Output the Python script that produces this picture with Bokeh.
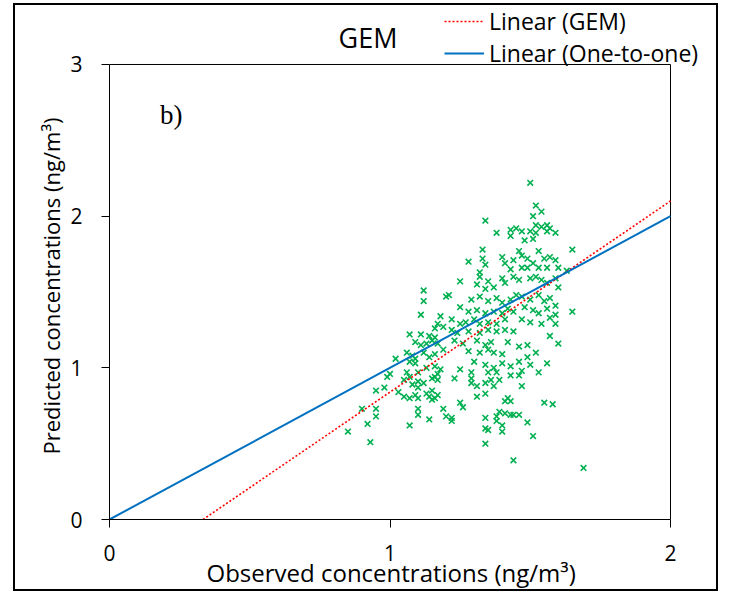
from bokeh.plotting import figure
from bokeh.models import Range1d, FixedTicker, Legend, LegendItem, Label, Title
from bokeh.embed import file_html
from bokeh.resources import INLINE

# ---------------- data ----------------
obs = [
    1.50, 1.52, 1.51, 1.54, 1.34, 1.38, 1.43, 1.45, 1.47, 1.43, 1.48, 1.50, 1.52, 1.54, 1.56, 1.57, 1.59, 1.56, 1.52, 1.51,
    1.28, 1.33, 1.33, 1.34, 1.32, 1.40, 1.41, 1.44, 1.46, 1.47, 1.49, 1.51, 1.53, 1.55, 1.57, 1.59, 1.60, 1.47, 1.49, 1.43,
    1.53, 1.56, 1.65, 1.63, 1.65,
    1.12, 1.12, 1.11, 1.20, 1.18, 1.17, 1.19, 1.16, 1.07, 1.11, 1.14, 1.16, 1.09, 1.11, 1.13, 1.15, 1.17, 1.06, 1.08, 1.09,
    1.12, 1.14, 1.16, 1.19, 1.02, 1.07, 1.09, 1.13, 1.16, 1.18, 1.06, 1.10, 1.00, 1.17,
    0.99, 0.95, 0.98, 1.03, 1.05, 1.07, 1.10, 1.12, 1.10, 1.08, 1.15, 1.17, 1.16, 1.05, 1.07, 1.09, 1.10, 1.13, 1.14, 1.15,
    1.16, 1.17, 1.15, 1.19, 0.90, 0.95, 1.10, 0.95, 1.10, 0.92, 1.07, 1.14, 0.85, 0.93, 1.20,
    1.23, 1.29, 1.29, 1.31, 1.34, 1.36, 1.37, 1.39, 1.43, 1.46, 1.47, 1.31, 1.34, 1.42, 1.43, 1.41, 1.55, 1.58, 1.25, 1.26,
    1.39, 1.41, 1.43, 1.44, 1.46, 1.38, 1.34, 1.22, 1.22, 1.38, 1.40, 1.49, 1.34, 1.35, 1.40, 1.51, 1.34, 1.44, 1.69,
    1.25, 1.21, 1.32, 1.35, 1.31, 1.34, 1.37, 1.40, 1.41, 1.44, 1.46, 1.50, 1.52, 1.54, 1.56, 1.59, 1.60,
    1.29, 1.32, 1.35, 1.38, 1.40, 1.43, 1.45, 1.47, 1.50, 1.53, 1.55, 1.57, 1.59,
    1.25, 1.28, 1.31, 1.34, 1.37, 1.40, 1.42, 1.44, 1.48, 1.51, 1.53, 1.56, 1.59,
    1.22, 1.25, 1.27, 1.30, 1.32, 1.35, 1.38, 1.41, 1.47, 1.50, 1.54, 1.57, 1.59,
    1.22, 1.24, 1.28, 1.32, 1.35, 1.38, 1.41, 1.44, 1.57,
    1.23, 1.26, 1.31, 1.34, 1.36, 1.42, 1.46, 1.49, 1.60,
    1.28, 1.32, 1.35, 1.37, 1.40, 1.46, 1.49, 1.52,
    1.30, 1.34, 1.37, 1.40, 1.43, 1.50, 1.56,
    1.25, 1.29, 1.35, 1.38, 1.47, 1.53,
]
pred = [
    2.22, 2.07, 2.00, 2.03, 1.97, 1.89, 1.91, 1.92, 1.90, 1.87, 1.84, 1.90, 1.94, 1.93, 1.94, 1.92, 1.89, 1.90, 1.89, 1.85,
    1.70, 1.78, 1.72, 1.68, 1.63, 1.73, 1.69, 1.71, 1.77, 1.74, 1.72, 1.69, 1.77, 1.72, 1.73, 1.71, 1.66, 1.66, 1.66, 1.65,
    1.66, 1.66, 1.78, 1.64, 1.37,
    1.51, 1.44, 1.35, 1.47, 1.34, 1.29, 1.27, 1.26, 1.22, 1.22, 1.21, 1.20, 1.17, 1.15, 1.16, 1.18, 1.16, 1.10, 1.08, 1.06,
    1.10, 1.07, 1.09, 1.12, 1.06, 1.04, 1.03, 1.00, 1.01, 0.99, 0.97, 0.97, 0.96, 0.96,
    0.94, 0.85, 0.87, 0.84, 0.92, 0.94, 0.91, 0.90, 0.87, 0.89, 0.93, 0.92, 0.94, 0.81, 0.80, 0.82, 0.80, 0.83, 0.81, 0.79,
    0.80, 0.82, 0.85, 0.73, 0.73, 0.73, 0.73, 0.68, 0.69, 0.63, 0.62, 0.66, 0.58, 0.51, 0.68,
    0.93, 0.93, 0.90, 0.88, 0.90, 0.92, 0.88, 0.92, 0.95, 0.95, 0.88, 0.81, 0.83, 0.80, 0.78, 0.78, 0.77, 0.76, 0.77, 0.74,
    0.71, 0.70, 0.69, 0.69, 0.69, 0.68, 0.67, 0.67, 0.65, 0.65, 0.62, 0.64, 0.60, 0.59, 0.58, 0.55, 0.50, 0.39, 0.34,
    1.57, 1.48, 1.60, 1.57, 1.55, 1.52, 1.53, 1.59, 1.56, 1.60, 1.58, 1.59, 1.60, 1.58, 1.56, 1.59, 1.53,
    1.45, 1.47, 1.44, 1.46, 1.43, 1.45, 1.48, 1.47, 1.45, 1.48, 1.44, 1.46, 1.41,
    1.40, 1.37, 1.38, 1.36, 1.37, 1.36, 1.39, 1.37, 1.40, 1.38, 1.36, 1.39, 1.35,
    1.32, 1.29, 1.30, 1.32, 1.29, 1.30, 1.29, 1.32, 1.32, 1.30, 1.29, 1.33, 1.29,
    1.25, 1.23, 1.24, 1.23, 1.25, 1.24, 1.25, 1.24, 1.21,
    1.18, 1.16, 1.18, 1.15, 1.17, 1.17, 1.14, 1.15, 1.16,
    1.11, 1.10, 1.12, 1.10, 1.09, 1.04, 1.07, 1.10,
    1.04, 1.02, 1.00, 1.03, 1.01, 1.02, 1.03,
    0.99, 0.97, 0.97, 0.97, 0.98, 0.97,
]

x_ticks = [0, 1, 2]
y_ticks = [0, 1, 2, 3]
x_min, x_max = 0, 2
y_min, y_max = 0, 3

# Excel linear trendline of the GEM series
gem_slope = 1.26
gem_intercept = -0.42

title_text = "GEM"
panel_tag = "b)"
x_label = "Observed concentrations (ng/m\u00b3)"
y_label = "Predicted concentrations (ng/m\u00b3)"
legend_labels = ["Linear (GEM)", "Linear (One-to-one)"]

FONT = "Open Sans"
GREEN, RED, BLUE = "#00B050", "#FF0000", "#0070C0"

# ---- layout constants (pixels) ----
W, H = 705, 588            # inner size of the bordered chart
FRAME_L, FRAME_B = 94, 74  # space left / below the plot area
PX_X = 280.5               # pixels per x unit
PX_Y = 151.67              # pixels per y unit
PAD_RIGHT = 50 / PX_X      # view continues right of x=2 (room for the legend)
PAD_TOP = 59 / PX_Y        # view continues above y=3 (room for title + legend)

p = figure(
    width=W, height=H,
    x_range=Range1d(x_min, x_max + PAD_RIGHT), y_range=Range1d(y_min, y_max + PAD_TOP),
    output_backend="svg", toolbar_location=None,
    min_border_left=FRAME_L, min_border_right=0, min_border_top=0, min_border_bottom=FRAME_B,
)
p.margin = (3, 0, 0, 13)
p.styles = {"border": "2px solid black"}
p.background_fill_color = "white"
p.border_fill_color = "white"
p.outline_line_color = None
p.xgrid.visible = False
p.ygrid.visible = False

for ax, ticks, bnds in ((p.xaxis[0], x_ticks, (x_min, x_max)), (p.yaxis[0], y_ticks, (y_min, y_max))):
    ax.ticker = FixedTicker(ticks=ticks)
    ax.bounds = bnds
    ax.minor_tick_line_color = None
    ax.major_tick_in = 0
    ax.major_tick_out = 8
    ax.major_tick_line_color = "black"
    ax.axis_line_color = "black"
    ax.major_label_text_font = FONT
    ax.major_label_text_font_size = "21px"
    ax.major_label_text_color = "black"
p.xaxis.major_label_standoff = 17
p.yaxis.major_label_standoff = 19

# axis titles (placed as side titles so they centre on the plot box, not on the view)
ty = Title(text=y_label, align="left", vertical_align="bottom", offset=65, standoff=4,
           text_font=FONT, text_font_size="22px", text_font_style="normal", text_color="black")
p.add_layout(ty, "left")
tx = Title(text=x_label, align="left", vertical_align="top", offset=97, standoff=-16,
           text_font=FONT, text_font_size="24px", text_font_style="normal", text_color="black")
p.add_layout(tx, "below")

# plot-area box
p.quad(left=[x_min], right=[x_max], bottom=[y_min], top=[y_max],
       fill_color=None, line_color="black", line_width=1)

# scatter
p.scatter(obs, pred, marker="x", size=8, line_width=1.6, color=GREEN)

# trend lines
gx0 = -gem_intercept / gem_slope
gem_x = [gx0, x_max]
gem_y = [gem_slope * v + gem_intercept for v in gem_x]
r_gem = p.line(gem_x, gem_y, line_color=RED, line_width=1.6, line_dash="2 2")
one_x = [x_min, x_max]
one_y = [x_min, x_max]
r_one = p.line(one_x, one_y, line_color=BLUE, line_width=2)

legend = Legend(
    items=[LegendItem(label=legend_labels[0], renderers=[r_gem]),
           LegendItem(label=legend_labels[1], renderers=[r_one])],
    location=(335, 450), orientation="vertical",
    padding=0, margin=0, spacing=0,
    glyph_width=40, glyph_height=30, label_height=30, label_standoff=5,
    label_text_font=FONT, label_text_font_size="23px", label_text_color="black",
    background_fill_alpha=0, border_line_alpha=0,
)
p.add_layout(legend, "center")

p.add_layout(Label(x=0.9216, y=3.175, text=title_text, text_align="center", text_baseline="middle",
                   text_font=FONT, text_font_size="27px", text_color="black"))
p.add_layout(Label(x=0.18, y=2.67, text=panel_tag, text_align="left", text_baseline="middle",
                   text_font="Liberation Serif", text_font_size="27px", text_color="black"))

open("out.html", "w").write(file_html(p, INLINE))
